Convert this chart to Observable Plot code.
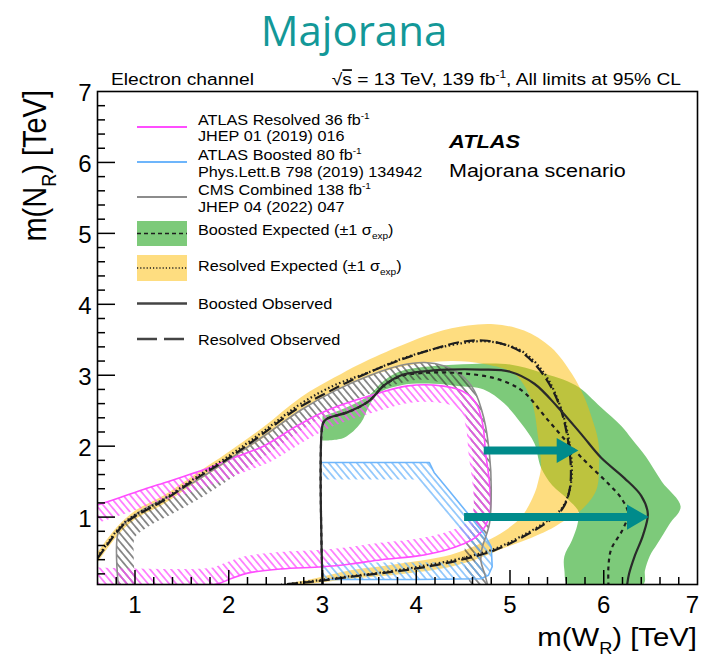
<!DOCTYPE html>
<html>
<head>
<meta charset="utf-8">
<script src="https://cdn.jsdelivr.net/npm/d3@7"></script>
<script src="https://cdn.jsdelivr.net/npm/@observablehq/plot@0.6"></script>
<style>
  html, body { margin: 0; padding: 0; background: #fff; }
  #chart { position: relative; width: 701px; height: 663px; }
</style>
</head>
<body>
<div id="chart"></div>
<script>
// ---- Exclusion contours in the (m(W_R), m(N_R)) plane, TeV ----

// ATLAS Resolved 36 fb-1 observed limit
const atlasResolved36 = [
  [0.6, 1.17], [0.85, 1.28], [1.09, 1.39], [1.35, 1.5], [1.58, 1.6], [1.8, 1.7], [2.0, 1.81],
  [2.37, 2.0], [2.72, 2.28], [3.04, 2.5], [3.48, 2.7], [3.91, 2.85], [4.27, 2.85], [4.5, 2.77],
  [4.64, 2.6], [4.71, 2.3], [4.74, 1.9], [4.78, 1.5], [4.79, 1.1], [4.74, 0.88], [4.64, 0.72],
  [4.5, 0.62], [4.3, 0.53], [4.0, 0.45], [3.63, 0.4], [3.3, 0.34], [3.0, 0.3], [2.56, 0.27],
  [2.2, 0.21], [2.02, 0.13], [1.85, 0.05], [0.6, 0.05]
];

// ATLAS Boosted 80 fb-1 observed limit
const atlasBoosted80 = [
  [3.0, 1.77], [3.6, 1.77], [4.14, 1.77], [4.19, 1.63], [4.34, 1.39], [4.55, 1.05], [4.72, 0.77],
  [4.8, 0.58], [4.81, 0.3], [4.77, 0.18], [4.69, 0.13], [4.0, 0.12], [3.0, 0.12]
];

// CMS Combined 138 fb-1 observed limit
const cmsCombined138 = [
  [0.82, 0.05], [0.82, 0.78], [0.9, 0.93], [1.0, 1.03], [1.12, 1.13], [1.3, 1.25], [1.65, 1.51],
  [2.0, 1.81], [2.37, 2.14], [2.77, 2.51], [3.13, 2.78], [3.49, 2.99], [3.84, 3.14], [4.09, 3.18],
  [4.3, 3.13], [4.48, 3.0], [4.62, 2.78], [4.72, 2.4], [4.78, 1.9], [4.8, 1.4], [4.78, 0.9],
  [4.7, 0.55], [4.69, 0.38], [4.73, 0.2], [4.76, 0.05]
];

// Boosted analysis: observed and expected limits
const boostedObserved = [
  [3.0, 0.05], [3.0, 2.3], [3.03, 2.37], [3.09, 2.41], [3.27, 2.48], [3.49, 2.63], [3.66, 2.86],
  [3.84, 3.0], [4.05, 3.05], [4.34, 3.08], [4.69, 3.08], [5.0, 3.05], [5.26, 2.88], [5.51, 2.55],
  [5.76, 2.17], [5.97, 1.84], [6.22, 1.55], [6.4, 1.3], [6.47, 1.05], [6.42, 0.75], [6.33, 0.45],
  [6.27, 0.2], [6.25, 0.05]
];
const boostedExpected = [
  [3.0, 0.05], [3.0, 2.3], [3.03, 2.37], [3.09, 2.41], [3.27, 2.48], [3.49, 2.63], [3.66, 2.86],
  [3.84, 2.99], [4.05, 3.03], [4.3, 3.04], [4.55, 3.02], [4.8, 2.97], [5.0, 2.88], [5.15, 2.76],
  [5.41, 2.36], [5.69, 1.94], [5.87, 1.7], [6.05, 1.47], [6.19, 1.26], [6.26, 1.05], [6.2, 0.82],
  [6.08, 0.55], [6.05, 0.3], [6.05, 0.05]
];
// Boosted expected ±1σ: outer and inner edges
const boostedPlusSigma = [
  [3.0, 2.42], [3.23, 2.53], [3.49, 2.71], [3.66, 2.93], [3.84, 3.06], [4.19, 3.13], [4.6, 3.16],
  [5.0, 3.15], [5.33, 3.04], [5.7, 2.86], [5.97, 2.55], [6.19, 2.28], [6.3, 2.1], [6.45, 1.85],
  [6.62, 1.5], [6.82, 1.15], [6.7, 0.9], [6.57, 0.62], [6.49, 0.45], [6.44, 0.25], [6.42, 0.05]
];
const boostedMinusSigma = [
  [3.0, 2.08], [3.23, 2.12], [3.41, 2.33], [3.49, 2.55], [3.59, 2.74], [3.84, 2.86], [4.19, 2.88],
  [4.44, 2.85], [4.72, 2.8], [4.94, 2.6], [5.12, 2.32], [5.26, 2.04], [5.33, 1.7], [5.45, 1.45],
  [5.62, 1.25], [5.73, 1.08], [5.72, 0.9], [5.66, 0.67], [5.58, 0.45], [5.58, 0.25], [5.62, 0.05]
];

// Resolved analysis: observed and expected limits
const resolvedObserved = [
  [0.6, 0.42], [0.7, 0.6], [0.8, 0.78], [0.9, 0.92], [1.01, 1.02], [1.3, 1.23], [1.65, 1.54],
  [2.01, 1.84], [2.37, 2.18], [2.72, 2.52], [3.04, 2.75], [3.31, 2.93], [3.6, 3.1], [3.84, 3.22],
  [4.16, 3.36], [4.48, 3.47], [4.72, 3.49], [4.95, 3.43], [5.15, 3.3], [5.37, 2.98], [5.52, 2.6],
  [5.61, 2.15], [5.65, 1.66], [5.63, 1.35], [5.56, 1.12], [5.4, 0.93], [5.12, 0.71], [4.83, 0.53],
  [4.45, 0.39], [4.02, 0.28], [3.63, 0.21], [3.31, 0.16], [2.9, 0.09], [2.56, 0.05]
];
const resolvedExpected = [
  [0.6, 0.44], [0.7, 0.62], [0.8, 0.8], [0.9, 0.94], [1.01, 1.04], [1.3, 1.25], [1.65, 1.56],
  [2.01, 1.87], [2.37, 2.21], [2.77, 2.6], [3.13, 2.86], [3.49, 3.04], [3.84, 3.23], [4.19, 3.37],
  [4.48, 3.45], [4.72, 3.48], [4.95, 3.43], [5.15, 3.32], [5.37, 3.02], [5.52, 2.62], [5.62, 2.15],
  [5.66, 1.66], [5.63, 1.35], [5.55, 1.12], [5.4, 0.95], [5.12, 0.73], [4.83, 0.55], [4.45, 0.41],
  [4.02, 0.3], [3.63, 0.22], [3.31, 0.17], [2.9, 0.1], [2.6, 0.05]
];
// Resolved expected ±1σ: outer and inner edges
const resolvedPlusSigma = [
  [0.6, 0.5], [0.8, 0.85], [1.0, 1.09], [1.3, 1.3], [1.65, 1.61], [2.0, 1.92], [2.37, 2.27],
  [2.77, 2.69], [3.13, 2.97], [3.4, 3.16], [3.84, 3.42], [4.2, 3.6], [4.55, 3.7], [4.83, 3.72],
  [5.15, 3.63], [5.44, 3.39], [5.66, 3.02], [5.79, 2.7], [5.87, 2.41], [5.94, 2.08], [5.95, 1.75],
  [5.92, 1.38], [5.76, 1.1], [5.58, 0.95], [5.4, 0.81], [5.23, 0.71], [4.87, 0.53], [4.69, 0.43],
  [4.37, 0.3], [3.8, 0.19], [3.31, 0.13], [3.0, 0.08], [2.8, 0.05]
];
const resolvedMinusSigma = [
  [0.6, 0.36], [0.8, 0.72], [1.0, 0.97], [1.3, 1.18], [1.65, 1.49], [2.0, 1.79], [2.37, 2.12],
  [2.77, 2.5], [3.13, 2.78], [3.5, 2.98], [3.84, 3.12], [4.37, 3.2], [4.72, 3.16], [4.98, 3.07],
  [5.1, 2.95], [5.23, 2.64], [5.3, 2.12], [5.33, 1.7], [5.3, 1.5], [5.26, 1.33], [5.12, 1.0],
  [4.9, 0.77], [4.69, 0.63], [4.37, 0.47], [3.8, 0.34], [3.3, 0.25], [2.9, 0.13], [2.6, 0.05]
];

// Highlighted reach at m(N_R) ≈ 2 and 1 TeV
const reachArrows = [
  {from: 4.72, to: 5.73, mN: 1.94},
  {from: 4.51, to: 6.48, mN: 1.0}
];

// Axes
const xTickValues = [1, 2, 3, 4, 5, 6, 7];
const xTickLabels = ["1", "2", "3", "4", "5", "6", "7"];
const yTickValues = [1, 2, 3, 4, 5, 6, 7];
const yTickLabels = ["1", "2", "3", "4", "5", "6", "7"];

// Legend
const legendLabels = [
  ["ATLAS Resolved 36 fb^{-1}", "JHEP 01 (2019) 016"],
  ["ATLAS Boosted 80 fb^{-1}", "Phys.Lett.B 798 (2019) 134942"],
  ["CMS Combined 138 fb^{-1}", "JHEP 04 (2022) 047"],
  ["Boosted Expected (±1 σ_{exp})"],
  ["Resolved Expected (±1 σ_{exp})"],
  ["Boosted Observed"],
  ["Resolved Observed"]
];

// ---- Styling ----
const MAGENTA = "#ff4dff", BLUE = "#6db5fb", GRAY = "#8c8c8c", HATCH_DARK = "#3a3a3a";
const GREEN = "#7dca7a", YELLOW = "rgb(253,187,1)", INK = "#1e1e1e", TEAL = "#008b8b";
const FONT = "'Liberation Sans', Arial, Helvetica, sans-serif";

// placeholder strokes that tag the hatch bands so they can be patterned afterwards
const TAG = {cms: "#010101", magenta: "#020202", blue: "#030303"};

const W = 701, H = 663;
const M = {top: 91, right: 4, bottom: 79, left: 97};
const xDom = [0.6, 7], yDom = [0.05, 7];
const kx = (W - M.left - M.right) / (xDom[1] - xDom[0]);
const ky = (H - M.top - M.bottom) / (yDom[1] - yDom[0]);

const X = d => d[0], Y = d => d[1];
const ring = (outer, inner) => outer.concat(inner.slice().reverse());

const step = 0.2;
const xMinor = d3.range(xDom[0] + step, xDom[1] - 1e-6, step).filter(v => Math.abs(v - Math.round(v)) > 1e-6);
const xMajor = xTickValues.filter(v => v < xDom[1]);
const yMinor = d3.range(0.2, yDom[1] - 1e-6, step).filter(v => Math.abs(v - Math.round(v)) > 1e-6);
const yMajor = yTickValues.filter(v => v < yDom[1]);

const BAND = 34;

const chart = Plot.plot({
  width: W, height: H,
  marginTop: M.top, marginRight: M.right, marginBottom: M.bottom, marginLeft: M.left,
  x: {domain: xDom, axis: null},
  y: {domain: yDom, axis: null},
  style: {fontFamily: FONT, background: "white", overflow: "visible"},
  marks: [
    // expected ±1σ bands
    Plot.line(ring(boostedPlusSigma, boostedMinusSigma), {x: X, y: Y, fill: GREEN, stroke: "none", curve: "catmull-rom", clip: true}),
    Plot.line(ring(resolvedPlusSigma, resolvedMinusSigma), {x: X, y: Y, fill: YELLOW, fillOpacity: 0.5, stroke: "none", curve: "catmull-rom", clip: true}),

    // hatched bands on the excluded side of earlier limits
    Plot.line(cmsCombined138, {x: X, y: Y, stroke: TAG.cms, strokeWidth: BAND, curve: "catmull-rom"}),
    Plot.line(atlasResolved36, {x: X, y: Y, stroke: TAG.magenta, strokeWidth: BAND, curve: "catmull-rom"}),
    Plot.line(atlasBoosted80, {x: X, y: Y, stroke: TAG.blue, strokeWidth: BAND, curve: "linear"}),

    // earlier limit contours
    Plot.line(atlasResolved36, {x: X, y: Y, stroke: MAGENTA, strokeWidth: 1.6, curve: "catmull-rom", clip: true}),
    Plot.line(atlasBoosted80, {x: X, y: Y, stroke: BLUE, strokeWidth: 1.6, curve: "linear", clip: true}),
    Plot.line(cmsCombined138, {x: X, y: Y, stroke: GRAY, strokeWidth: 1.6, curve: "catmull-rom", clip: true}),

    // new limits
    Plot.line(resolvedExpected, {x: X, y: Y, stroke: INK, strokeWidth: 2.2, strokeDasharray: "1.5,2.5", strokeLinecap: "butt", curve: "catmull-rom", clip: true}),
    Plot.line(resolvedObserved, {x: X, y: Y, stroke: INK, strokeWidth: 2.2, strokeDasharray: "11,5", strokeLinecap: "butt", curve: "catmull-rom", clip: true}),
    Plot.line(boostedExpected, {x: X, y: Y, stroke: INK, strokeWidth: 2.2, strokeDasharray: "4,4", strokeLinecap: "butt", curve: "catmull-rom", clip: true}),
    Plot.line(boostedObserved, {x: X, y: Y, stroke: "#2a2a2a", strokeWidth: 2.2, curve: "catmull-rom", clip: true}),

    // reach arrows
    Plot.arrow(reachArrows, {x1: "from", x2: "to", y1: "mN", y2: "mN", stroke: TEAL, strokeWidth: 8, headLength: 0, insetEnd: 16, strokeLinecap: "butt"}),
    Plot.dot(reachArrows, {x: "to", y: "mN", symbol: "triangle", rotate: 90, r: 9.3, fill: TEAL, stroke: "none", dx: -14.5}),

    // inward ticks
    Plot.ruleX(xMajor, {x: d => d, y1: yDom[0], y2: yDom[0] + 14 / ky, stroke: "black", strokeWidth: 1.5}),
    Plot.ruleX(xMinor, {x: d => d, y1: yDom[0], y2: yDom[0] + 7 / ky, stroke: "black", strokeWidth: 1.5}),
    Plot.ruleY(yMajor, {y: d => d, x1: xDom[0], x2: xDom[0] + 18 / kx, stroke: "black", strokeWidth: 1.5}),
    Plot.ruleY(yMinor, {y: d => d, x1: xDom[0], x2: xDom[0] + 8 / kx, stroke: "black", strokeWidth: 1.5}),

    // tick labels (the last one nudged inside the canvas)
    Plot.text(xTickValues.filter(v => v < xDom[1]), {x: d => d, y: yDom[0], text: d => xTickLabels[xTickValues.indexOf(d)], dy: 21, fontSize: 24, fill: "black"}),
    Plot.text(xTickValues.filter(v => v >= xDom[1]), {x: d => d, y: yDom[0], text: d => xTickLabels[xTickValues.indexOf(d)], dy: 21, dx: -5, fontSize: 24, fill: "black"}),
    Plot.text(yTickValues, {x: xDom[0], y: d => d, text: (d, i) => yTickLabels[i], dx: -6, dy: 2, textAnchor: "end", fontSize: 24, fill: "black"}),

    Plot.frame({stroke: "black", strokeWidth: 1.6})
  ]
});

document.getElementById("chart").appendChild(chart);

// ---- hatch patterns and band clipping ----
const svg = d3.select(chart);
const defs = svg.insert("defs", ":first-child");

function hatch(id, color, width, spacing) {
  const p = defs.append("pattern")
    .attr("id", id)
    .attr("patternUnits", "userSpaceOnUse")
    .attr("width", spacing).attr("height", 10)
    .attr("patternTransform", "rotate(-40)");
  p.append("line")
    .attr("x1", spacing / 2).attr("x2", spacing / 2)
    .attr("y1", -1).attr("y2", 11)
    .attr("stroke", color).attr("stroke-width", width);
}
hatch("pat-cms", HATCH_DARK, 1.1, 5.4);
hatch("pat-magenta", MAGENTA, 1.3, 5.4);
hatch("pat-blue", BLUE, 1.3, 5.4);

// frame rectangle used to keep hatch bands inside the axes
const fx0 = M.left, fx1 = W - M.right, fy0 = M.top, fy1 = H - M.bottom;
defs.append("clipPath").attr("id", "clip-frame")
  .append("rect").attr("x", fx0).attr("y", fy0).attr("width", fx1 - fx0).attr("height", fy1 - fy0);

Object.entries(TAG).forEach(([name, tag]) => {
  svg.selectAll("g").filter(function () {
    return (this.getAttribute("stroke") || "").toLowerCase() === tag;
  }).each(function () {
    const g = d3.select(this);
    g.attr("stroke", `url(#pat-${name})`);
    g.selectAll("path").each(function (_, i) {
      const id = `clip-${name}-${i}`;
      defs.append("clipPath").attr("id", id)
        .append("path").attr("d", this.getAttribute("d") + "Z");
      d3.select(this).attr("stroke", `url(#pat-${name})`).attr("clip-path", `url(#${id})`);
    });
    // wrap the band in the frame clip
    const wrap = svg.insert("g", () => this).attr("clip-path", "url(#clip-frame)");
    wrap.node().appendChild(this);
  });
});

// ---- text with super/subscripts; horizontally widened like the original canvas ----
const SX = 1.15;
function rich(parent, str, size, opts = {}) {
  const g = parent.append("g")
    .attr("transform", `translate(${opts.x},${opts.y}) scale(${opts.sx ?? SX},1)` + (opts.rotate ? ` rotate(${opts.rotate})` : ""));
  const t = g.append("text")
    .attr("font-family", FONT)
    .attr("font-size", size)
    .attr("fill", opts.fill || "black")
    .attr("text-anchor", opts.anchor || "start");
  if (opts.weight) t.attr("font-weight", opts.weight);
  if (opts.style) t.attr("font-style", opts.style);
  let shift = 0;
  for (const part of str.split(/(\^\{[^}]*\}|_\{[^}]*\}|~\{[^}]*\})/)) {
    if (!part) continue;
    let target = 0, fs = size, content = part, over = false;
    if (part.startsWith("^{")) { target = -0.42 * size; fs = 0.62 * size; content = part.slice(2, -1); }
    else if (part.startsWith("_{")) { target = 0.3 * size; fs = 0.62 * size; content = part.slice(2, -1); }
    else if (part.startsWith("~{")) { over = true; content = part.slice(2, -1); }
    const s = t.append("tspan").attr("dy", target - shift).attr("font-size", fs).text(content);
    if (over) s.attr("text-decoration", "overline");
    shift = target;
  }
  return t;
}

const ann = svg.append("g");

// axis titles
rich(ann, "m(W_{R}) [TeV]", 25.5, {x: 697, y: 646, anchor: "end"});
rich(ann, "m(N_{R}) [TeV]", 29, {x: 46, y: 90, anchor: "end", rotate: -90});

// header lines above the frame
rich(ann, "Electron channel", 16.7, {x: 111, y: 85});
rich(ann, "√~{s} = 13 TeV, 139 fb^{-1}, All limits at 95% CL", 16.7, {x: 681, y: 85, anchor: "end"});

// experiment label
rich(ann, "ATLAS", 19, {x: 449, y: 148, weight: "bold", style: "italic"});
rich(ann, "Majorana scenario", 18.7, {x: 449, y: 177});

// legend
const lg = ann.append("g");
const lx0 = 137, lx1 = 187, tx = 198, LS = 14.1;
const sample = (y, stroke, width, dash) => lg.append("line")
  .attr("x1", lx0).attr("x2", lx1).attr("y1", y).attr("y2", y)
  .attr("stroke", stroke).attr("stroke-width", width)
  .attr("stroke-dasharray", dash || null);

sample(127, MAGENTA, 2);
rich(lg, legendLabels[0][0], LS, {x: tx, y: 125});
rich(lg, legendLabels[0][1], LS, {x: tx, y: 141});

sample(162, BLUE, 2);
rich(lg, legendLabels[1][0], LS, {x: tx, y: 160});
rich(lg, legendLabels[1][1], LS, {x: tx, y: 177});

sample(197, GRAY, 2);
rich(lg, legendLabels[2][0], LS, {x: tx, y: 195});
rich(lg, legendLabels[2][1], LS, {x: tx, y: 212});

lg.append("rect").attr("x", lx0).attr("y", 221).attr("width", lx1 - lx0).attr("height", 25).attr("fill", GREEN);
sample(233.5, INK, 1.6, "4,3");
rich(lg, legendLabels[3][0], LS, {x: tx, y: 235});

lg.append("rect").attr("x", lx0).attr("y", 255).attr("width", lx1 - lx0).attr("height", 26).attr("fill", YELLOW).attr("fill-opacity", 0.5);
sample(268, INK, 1.4, "1.2,2");
rich(lg, legendLabels[4][0], LS, {x: tx, y: 271});

sample(303.5, "#444", 2.4);
rich(lg, legendLabels[5][0], LS, {x: tx, y: 309});

sample(339, "#444", 2.4, "20,7");
rich(lg, legendLabels[6][0], LS, {x: tx, y: 345});

// page title
svg.append("text")
  .attr("x", 354).attr("y", 46)
  .attr("text-anchor", "middle")
  .attr("font-family", "'Open Sans', 'Noto Sans', sans-serif")
  .attr("font-size", 42)
  .attr("fill", "#139898")
  .text("Majorana");
</script>
</body>
</html>
